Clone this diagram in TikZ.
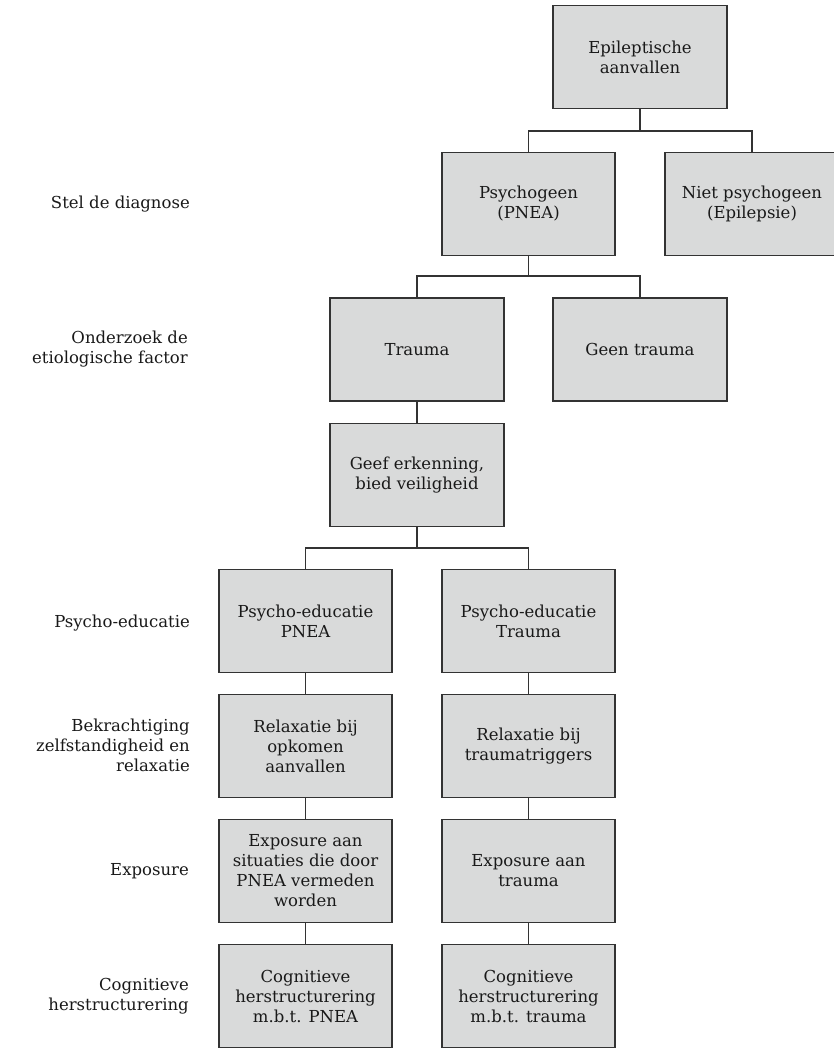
\documentclass[tikz,border=0pt]{standalone}
\usepackage{fontspec}
\setmainfont{DejaVu Serif}
\begin{document}
\begin{tikzpicture}[x=1pt,y=-1pt,
  box/.style={draw=black!80, line width=1.6pt, fill=boxgray, rectangle,
    minimum width=173.5pt, minimum height=103pt, inner sep=2pt,
    align=center, text=black!90, font=\fontsize{16.5}{20}\selectfont},
  lbl/.style={anchor=east, align=right, text=black!90, font=\fontsize{16.5}{20}\selectfont, inner sep=0pt},
  link/.style={draw=black!80, line width=1.3pt}]
\definecolor{boxgray}{HTML}{D9DADA}
\useasboundingbox (0,0) rectangle (834,1049);
% boxes
\node[box] (epi)   at (640,57)    {Epileptische\\aanvallen};
\node[box] (psy)   at (528.5,204) {Psychogeen\\(PNEA)};
\node[box] (niet)  at (752,204)   {Niet psychogeen\\(Epilepsie)};
\node[box] (trau)  at (417,349.5) {Trauma};
\node[box] (geen)  at (640,349.5) {Geen trauma};
\node[box] (geef)  at (417,475)   {Geef erkenning,\\bied veiligheid};
\node[box] (pep)   at (305.5,621) {Psycho-educatie\\PNEA};
\node[box] (pet)   at (528.5,621) {Psycho-educatie\\Trauma};
\node[box] (relp)  at (305.5,746) {Relaxatie bij\\opkomen\\aanvallen};
\node[box] (relt)  at (528.5,746) {Relaxatie bij\\traumatriggers};
\node[box] (expp)  at (305.5,871) {Exposure aan\\situaties die door\\PNEA vermeden\\worden};
\node[box] (expt)  at (528.5,871) {Exposure aan\\trauma};
\node[box] (cogp)  at (305.5,996) {Cognitieve\\herstructurering\\m.b.t. PNEA};
\node[box] (cogt)  at (528.5,996) {Cognitieve\\herstructurering\\m.b.t. trauma};
% labels
\node[lbl] (l1) at (190,204)   {Stel de diagnose};
\node[lbl] (l2) at (188,349.5) {Onderzoek de\\etiologische factor};
\node[lbl] (l3) at (190,623)   {Psycho-educatie};
\node[lbl] (l4) at (190,745)   {Bekrachtiging\\zelfstandigheid en\\relaxatie};
\node[lbl] (l5) at (189,871)   {Exposure};
\node[lbl] (l6) at (189,996)   {Cognitieve\\herstructurering};
% branch points
\coordinate (b1) at (640,131);
\coordinate (b2) at (528.5,276);
\coordinate (b3) at (417,548);
% connectors
\draw[link] (epi.south) -- (b1);
\draw[link] (psy.north) |- (b1) -| (niet.north);
\draw[link] (psy.south) -- (b2);
\draw[link] (trau.north) |- (b2) -| (geen.north);
\draw[link] (trau.south) -- (geef.north);
\draw[link] (geef.south) -- (b3);
\draw[link] (pep.north) |- (b3) -| (pet.north);
\draw[link] (pep.south) -- (relp.north);
\draw[link] (relp.south) -- (expp.north);
\draw[link] (expp.south) -- (cogp.north);
\draw[link] (pet.south) -- (relt.north);
\draw[link] (relt.south) -- (expt.north);
\draw[link] (expt.south) -- (cogt.north);
\end{tikzpicture}
\end{document}
